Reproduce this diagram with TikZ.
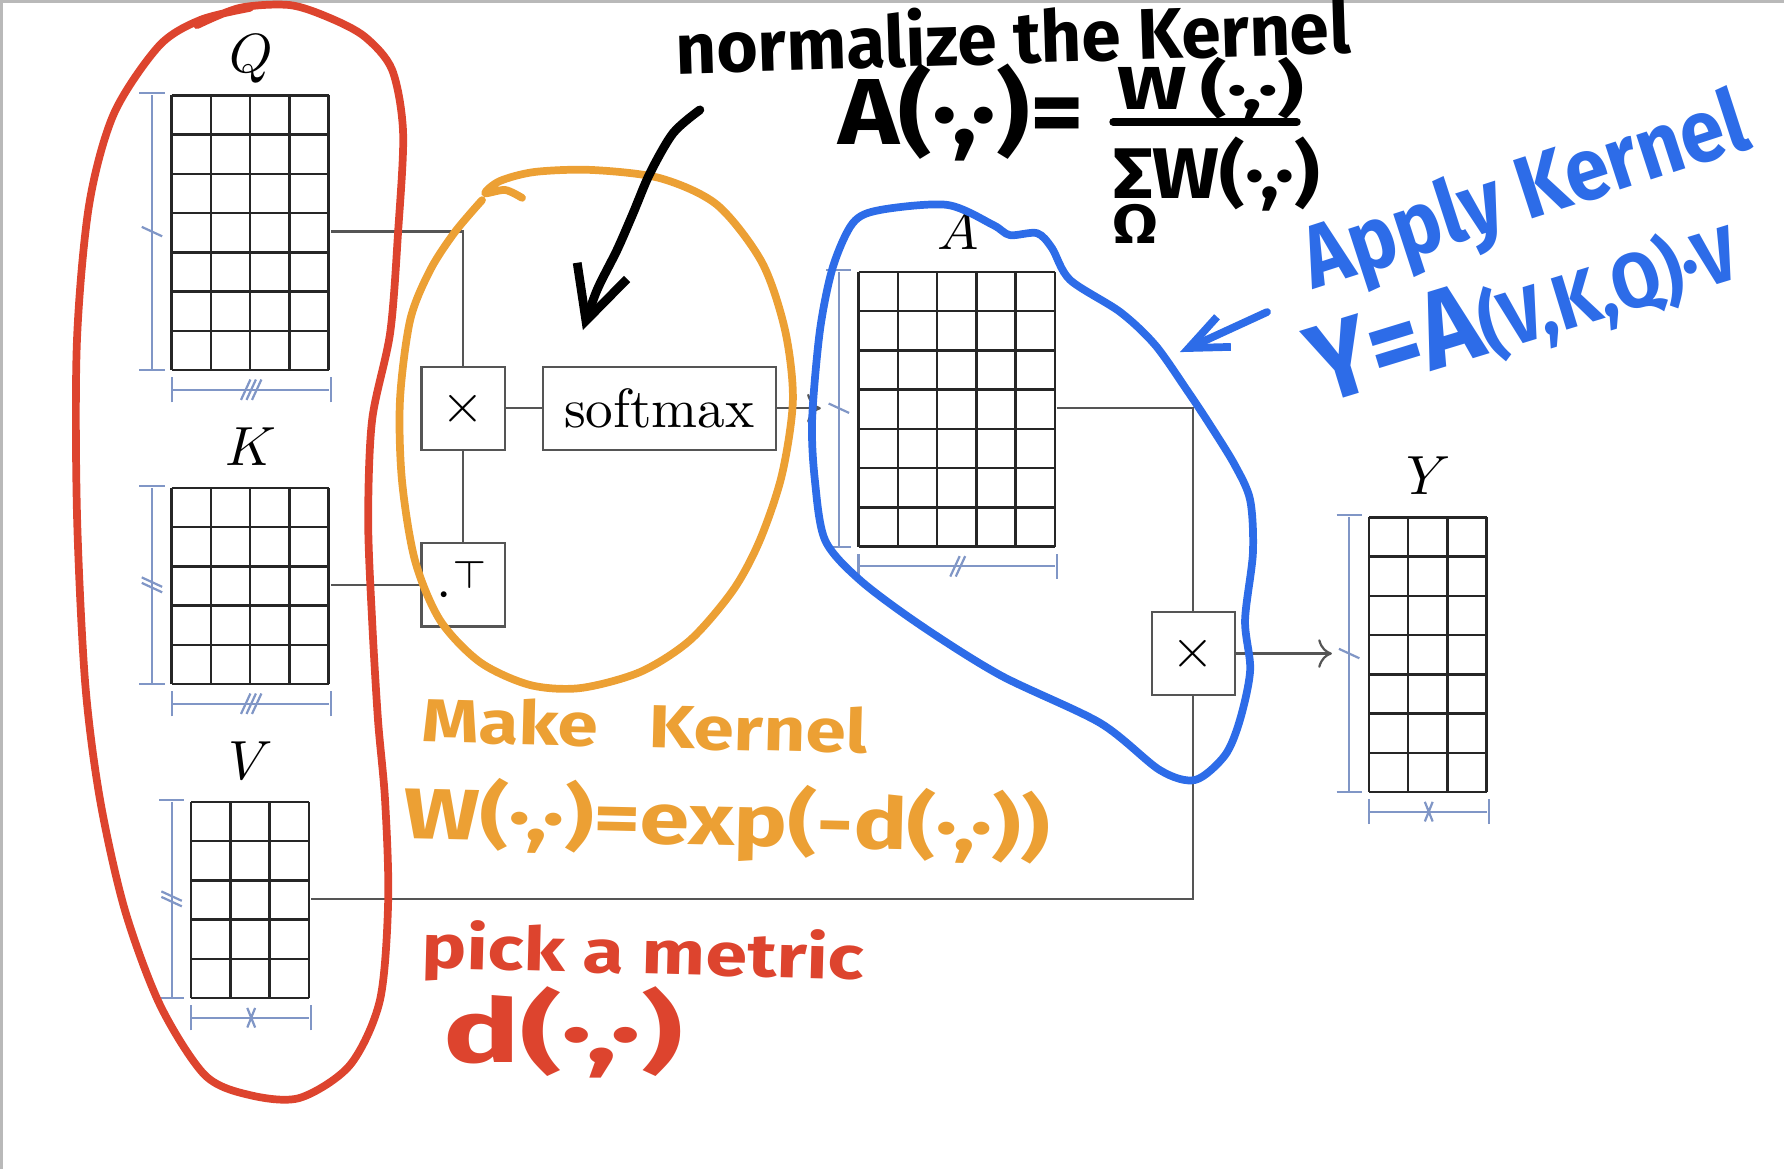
\documentclass[tikz,border=0pt]{standalone}
\usepackage{fontspec}
\usepackage{tikz}
\usetikzlibrary{arrows.meta, positioning, calc}
\newfontfamily\handfont{Fira Sans}

\definecolor{inkred}{RGB}{221,68,46}
\definecolor{inkorange}{RGB}{236,160,52}
\definecolor{inkblue}{RGB}{45,108,232}
\definecolor{dimblue}{RGB}{128,150,198}
\definecolor{wiregray}{RGB}{85,85,85}

\tikzset{
  matbox/.style={inner sep=0pt},
  matline/.style={draw=black!85, line width=0.45pt},
  opbox/.style={draw=wiregray, line width=0.4pt, minimum size=0.53cm, inner sep=0pt},
  wire/.style={draw=wiregray, line width=0.4pt},
  dimline/.style={draw=dimblue, line width=0.4pt},
  labtext/.style={inner sep=0pt, text depth=0pt, label distance=3.5pt},
  penline/.style={line width=1.4pt, line cap=round, line join=round},
  annot/.style={inner sep=0pt, anchor=base west, font=\handfont\bfseries\fontsize{#1}{#1}\selectfont},
  tickone/.pic={\draw[dimline] (-0.12,-0.26) -- (0.12,0.26);},
  ticktwo/.pic={\foreach \s in {-0.07,0.07} \draw[dimline] (\s-0.12,-0.26) -- (\s+0.12,0.26);},
  tickthree/.pic={\foreach \s in {-0.14,0,0.14} \draw[dimline] (\s-0.12,-0.26) -- (\s+0.12,0.26);},
  tickcross/.pic={\draw[dimline] (-0.1,-0.25) -- (0.1,0.25) (0.1,-0.25) -- (-0.1,0.25);}
}

% cells of a matrix node: name, columns, rows
\newcommand{\matcells}[3]{%
  \foreach \i in {0,...,#2} \draw[matline] (#1.south west) ++(\i,0) -- ++(0,#3);
  \foreach \j in {0,...,#3} \draw[matline] (#1.south west) ++(0,\j) -- ++(#2,0);
}
% size bars of a matrix node: name, columns, rows, row tick, column tick
\newcommand{\matdims}[5]{%
  \draw[dimline] (#1.south west) ++(-0.5,0) -- ++(0,#3);
  \draw[dimline] (#1.south west) ++(-0.82,0) -- ++(0.64,0);
  \draw[dimline] (#1.north west) ++(-0.82,0) -- ++(0.64,0);
  \path (#1.west) ++(-0.5,0) pic[rotate=90] {#4};
  \draw[dimline] (#1.south west) ++(0,-0.5) -- ++(#2,0);
  \draw[dimline] (#1.south west) ++(0,-0.82) -- ++(0,0.64);
  \draw[dimline] (#1.south east) ++(0,-0.82) -- ++(0,0.64);
  \path (#1.south) ++(0,-0.5) pic {#5};
}

\begin{document}
\begin{tikzpicture}[x=0.25cm, y=0.25cm]
\useasboundingbox (0,0) rectangle (45.45,-29.78);
\draw[gray!55, line width=0.5pt] (0.03,-29.78) -- (0.03,-0.03) -- (45.45,-0.03);

% matrices
\node[matbox, minimum width=1cm, minimum height=1.75cm, label={[labtext]above:$Q$}] (Q) at (6.4,-5.9) {};
\node[matbox, minimum width=1cm, minimum height=1.25cm, label={[labtext]above:$K$}] (K) at (6.4,-14.9) {};
\node[matbox, minimum width=0.75cm, minimum height=1.25cm, label={[labtext]above:$V$}] (V) at (6.4,-22.9) {};
\node[matbox, minimum width=1.25cm, minimum height=1.75cm, label={[labtext]above:$A$}] (A) at (24.4,-10.4) {};
\node[matbox, minimum width=0.75cm, minimum height=1.75cm, label={[labtext]above:$Y$}] (Y) at (36.4,-16.65) {};
\matcells{Q}{4}{7} \matdims{Q}{4}{7}{tickone}{tickthree}
\matcells{K}{4}{5} \matdims{K}{4}{5}{ticktwo}{tickthree}
\matcells{V}{3}{5} \matdims{V}{3}{5}{ticktwo}{tickcross}
\matcells{A}{5}{7} \matdims{A}{5}{7}{tickone}{ticktwo}
\matcells{Y}{3}{7} \matdims{Y}{3}{7}{tickone}{tickcross}

% operations
\node[opbox] (mulqk) at (11.8,-10.4) {$\times$};
\node[opbox] (trans) at (11.8,-14.9) {$\cdot^{\top}$};
\node[opbox, minimum width=1.48cm] (soft) at (16.8,-10.4) {softmax};
\node[opbox] (mulav) at (30.4,-16.65) {$\times$};

\draw[wire] (Q.east) -| (mulqk.north);
\draw[wire] (K.east) -- (trans.west);
\draw[wire] (trans.north) -- (mulqk.south);
\draw[wire] (mulqk.east) -- (soft.west);
\draw[wire, ->, shorten >=0.24cm] (soft.east) -- (A.west);
\draw[wire] (A.east) -| (mulav.north);
\draw[wire] (V.east) -| (mulav.south);
\draw[wire, ->, shorten >=0.235cm] (mulav.east) -- (Y.west);

% hand drawn loops
\draw[penline, inkred] plot[smooth] coordinates {(5.02,-0.64) (6.11,-0.20) (7.39,-0.13) (8.41,-0.46) (9.30,-0.94) (9.99,-1.78) (10.27,-3.39) (10.14,-5.94) (9.94,-8.48) (9.48,-10.70) (9.38,-13.25) (9.48,-15.80) (9.63,-18.34) (9.81,-20.38) (9.89,-22.93) (9.68,-25.48) (8.92,-27.13) (7.64,-27.97) (6.37,-27.90) (5.22,-27.39) (4.08,-25.61) (3.18,-23.18) (2.55,-20.38) (2.17,-17.40) (1.96,-13.04) (1.96,-8.69) (2.27,-5.22) (2.90,-2.90) (4.05,-1.17) (5.10,-0.51) (6.37,-0.20)};
\draw[penline, inkorange] plot[smooth] coordinates {(13.30,-5.04) (12.87,-4.84) (12.36,-4.92) (12.74,-4.61) (13.63,-4.38) (15.08,-4.33) (16.82,-4.54) (18.27,-5.22) (19.41,-6.68) (20.00,-8.41) (20.20,-10.19) (19.92,-12.10) (19.36,-13.76) (18.68,-15.03) (17.58,-16.31) (16.31,-17.12) (14.78,-17.53) (13.50,-17.45) (12.23,-16.87) (11.21,-15.80) (10.57,-14.27) (10.24,-12.23) (10.19,-10.19) (10.45,-8.15) (10.96,-6.88) (11.59,-5.91) (12.28,-5.10)};
\draw[penline, inkblue] plot[smooth cycle] coordinates {(22.42,-5.35) (24.13,-5.22) (25.30,-5.73) (25.73,-5.99) (26.42,-5.94) (26.80,-6.32) (27.26,-7.13) (28.54,-7.95) (29.43,-8.79) (30.24,-9.94) (30.83,-10.83) (31.46,-11.85) (31.85,-12.74) (31.92,-14.09) (31.72,-15.80) (31.85,-17.07) (31.59,-18.34) (31.21,-19.24) (30.45,-19.87) (29.55,-19.62) (28.03,-18.42) (25.48,-17.20) (23.44,-15.92) (21.91,-14.78) (21.02,-13.76) (20.76,-12.23) (20.69,-10.70) (20.89,-8.41) (21.22,-6.80) (21.73,-5.68)};

% hand drawn arrows
\draw[penline, line width=1.6pt, -{Straight Barb[length=9.5pt, width=9.5pt]}] plot[smooth] coordinates {(17.83,-2.80) (17.15,-3.39) (16.56,-4.41) (16.13,-5.43) (15.72,-6.37) (15.21,-7.39) (14.85,-8.41)};
\draw[penline, inkblue, -{Straight Barb[length=7pt, width=6pt]}] (32.28,-7.95) -- (30.06,-8.97);

% hand written notes
\node[annot=13, rotate=1.8, xscale=.99] (normtxt) at (17.20,-1.89) {normalize the Kernel};
\node[annot=17, xscale=1.1] (atxt) at (21.32,-3.69) {A(·,·)=};
\node[annot=11, xscale=1.35] (wnum) at (28.43,-2.80) {W\,(·,·)};
\draw[penline] (28.36,-3.11) -- (33.04,-3.11);
\node[annot=13, xscale=1.1] (wden) at (28.33,-5.05) {ΣW(·,·)};
\node[annot=10, anchor=center, xscale=1.2] (omega) at (28.92,-5.70) {Ω};
\node[annot=16, text=inkblue, rotate=18, xscale=.9] (applytxt) at (33.45,-7.39) {Apply Kernel};
\node[annot=20, text=inkblue, rotate=17, xscale=.92] (ytxt) at (33.68,-10.32) {Y=A{\fontsize{14}{14}\selectfont(V,K,Q)·V}};
\node[annot=11, text=inkorange, rotate=-1.5, xscale=1.2] (maketxt) at (10.70,-18.90) {Make\hspace{0.7em}Kernel};
\node[annot=13, text=inkorange, rotate=-1.3, xscale=1.25] (wtxt) at (10.24,-21.35) {W(·,·)=exp(-d(·,·))};
\node[annot=11, text=inkred, rotate=-1.5, xscale=1.24] (picktxt) at (10.70,-24.66) {pick a metric};
\node[annot=16, text=inkred, xscale=1.45] (dtxt) at (11.26,-27.08) {d(·,·)};

\end{tikzpicture}
\end{document}
